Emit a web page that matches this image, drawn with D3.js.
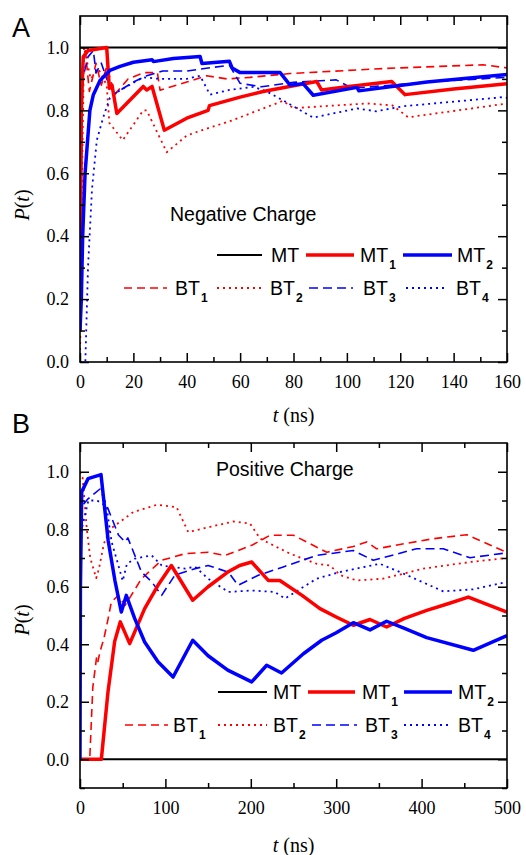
<!DOCTYPE html>
<html><head><meta charset="utf-8">
<script src="https://cdn.jsdelivr.net/npm/d3@7"></script>
<style>
html,body{margin:0;padding:0;background:#fff;}
svg{display:block;}
.tick text{font-family:'Liberation Serif','Times New Roman',serif !important;}
</style></head>
<body>
<svg id="chart" width="526" height="855"></svg>
<script>
// ---------- DATA ----------
// Panel A : Negative Charge, t in ns (0-160)
const xTicksA = [0,20,40,60,80,100,120,140,160];
const yTicksA = [0.0,0.2,0.4,0.6,0.8,1.0];
const A_MT  = [[0,1.0],[160,1.0]];
const A_MT1 = [[0,0.1],[0.5,0.8],[1.2,0.97],[3,0.99],[10,1.0],[11,0.87],[12,0.88],[13.8,0.79],[23.7,0.876],[25,0.865],[27,0.876],[31.6,0.737],[40,0.775],[48,0.8],[48.5,0.815],[60,0.842],[68.6,0.86],[80,0.878],[88.7,0.892],[90.5,0.865],[100,0.875],[116.8,0.892],[121.8,0.85],[140,0.868],[160,0.885]];
const A_MT2 = [[0,0.1],[0.5,0.2],[1,0.4],[1.9,0.6],[3.7,0.8],[5,0.85],[7.5,0.895],[11.2,0.927],[15,0.94],[20,0.953],[27,0.961],[27.5,0.955],[35,0.965],[45,0.971],[45.7,0.949],[56,0.956],[57,0.935],[60,0.92],[65,0.92],[75,0.92],[78.7,0.88],[83.6,0.885],[87.4,0.848],[103.8,0.873],[104.5,0.862],[130,0.89],[160,0.914]];
const A_BT1 = [[0,0.45],[1,0.95],[2,0.99],[3.5,0.86],[6,0.95],[8,0.88],[10,0.94],[13,0.85],[18,0.9],[24,0.92],[29,0.92],[30,0.864],[40,0.89],[47.5,0.91],[55,0.9],[63.7,0.905],[78.7,0.917],[113.6,0.933],[151,0.945],[160,0.935]];
const A_BT2 = [[0,0],[0.8,0.6],[1.5,1.0],[4,0.9],[7,0.93],[10,0.88],[11,0.76],[16,0.705],[23.7,0.8],[25,0.8],[32.5,0.667],[40,0.72],[45,0.735],[57,0.768],[63.7,0.79],[76,0.83],[80,0.807],[107.5,0.822],[117,0.816],[123,0.778],[158.5,0.82],[160,0.82]];
const A_BT3 = [[0,0.3],[1,0.9],[3,0.97],[5,0.99],[6,0.92],[8,0.95],[10,0.9],[13,0.853],[20,0.89],[25,0.91],[31,0.925],[40,0.925],[50,0.937],[56,0.943],[60,0.886],[68,0.875],[80,0.889],[96,0.897],[102,0.87],[130,0.89],[160,0.905]];
const A_BT4 = [[0,0],[2,0],[3,0.3],[4.5,0.55],[6.3,0.705],[8.7,0.778],[11.2,0.84],[15,0.864],[23.7,0.905],[30,0.9],[40,0.9],[45,0.91],[48.7,0.85],[56,0.865],[65,0.875],[70,0.86],[76,0.832],[87.4,0.777],[103.8,0.806],[111,0.797],[121,0.813],[158.5,0.842],[160,0.84]];

// Panel B : Positive Charge, t in ns (0-500)
const xTicksB = [0,100,200,300,400,500];
const yTicksB = [0.0,0.2,0.4,0.6,0.8,1.0];
const B_MT  = [[0,0],[500,0]];
const B_MT1 = [[0,0],[25,0],[32.8,0.235],[40.6,0.41],[47.2,0.478],[58.2,0.402],[75.7,0.524],[91.3,0.605],[107,0.674],[132,0.553],[150,0.6],[173,0.651],[187,0.674],[201,0.686],[220.5,0.622],[234,0.622],[260,0.57],[281,0.524],[300,0.495],[320,0.466],[339.6,0.486],[359,0.46],[380,0.49],[406,0.518],[430,0.54],[454.7,0.564],[500,0.512]];
const B_MT2 = [[0,0],[0.5,0.6],[2,0.93],[9.4,0.976],[24.6,0.99],[33,0.76],[41,0.62],[48.4,0.512],[54.2,0.57],[64,0.49],[75.7,0.408],[91.3,0.339],[109,0.286],[132,0.414],[150,0.36],[173,0.31],[201,0.269],[218.6,0.327],[236,0.30],[261.6,0.367],[283,0.414],[300,0.44],[320,0.475],[339.6,0.45],[359,0.48],[380,0.455],[406,0.423],[460.5,0.379],[500,0.43]];
const B_BT1 = [[0,0],[11.4,0],[15,0.25],[19.5,0.357],[21,0.34],[23.4,0.374],[28,0.42],[33,0.49],[36.7,0.547],[45,0.57],[52.7,0.535],[60,0.57],[72,0.628],[95.6,0.692],[123,0.715],[150,0.72],[170,0.709],[201,0.744],[222.5,0.779],[250,0.779],[289,0.72],[320,0.74],[335.7,0.756],[347.4,0.732],[380,0.75],[413.7,0.767],[452.8,0.781],[499.6,0.72]];
const B_BT2 = [[0,1.0],[3,0.98],[8,0.8],[12,0.7],[19,0.63],[22,0.66],[28,0.75],[35,0.8],[62.4,0.86],[89.8,0.885],[113,0.877],[126.8,0.79],[152,0.808],[179.5,0.827],[199,0.82],[211,0.767],[246,0.715],[277,0.68],[292.7,0.674],[305,0.64],[324,0.622],[355,0.628],[402,0.663],[456.7,0.686],[500,0.70]];
const B_BT3 = [[0,0.5],[2,0.88],[9.4,0.906],[23.4,0.94],[33,0.87],[45,0.78],[52.7,0.756],[56,0.77],[72,0.651],[84,0.617],[95.6,0.57],[111,0.64],[134.7,0.663],[150,0.674],[173.7,0.651],[185,0.605],[208.8,0.64],[238,0.669],[277,0.709],[320,0.726],[343.4,0.692],[394,0.732],[425.4,0.732],[456.7,0.701],[500,0.718]];
const B_BT4 = [[0,0.6],[2,0.8],[9.8,0.9],[20,0.9],[31,0.88],[37,0.756],[45,0.674],[50,0.62],[55,0.68],[64.4,0.698],[84,0.709],[95.6,0.674],[123,0.663],[134.7,0.67],[150,0.628],[173.7,0.582],[201,0.587],[228,0.582],[240,0.559],[277,0.628],[304.4,0.651],[351,0.68],[374.7,0.651],[425.4,0.584],[460.5,0.591],[500,0.617]];

const seriesNames = ["MT","MT1","MT2","BT1","BT2","BT3","BT4"];

// ---------- STYLES ----------
const RED = "#ff0000", BLUE = "#0000ff";
const styles = {
  MT:  {color:"#000", width:2,   dash:null},
  MT1: {color:RED,  width:3.5, dash:null},
  MT2: {color:BLUE, width:3.5, dash:null},
  BT1: {color:RED,  width:1.6, dash:"8,5"},
  BT2: {color:RED,  width:1.8, dash:"2,4"},
  BT3: {color:BLUE, width:1.6, dash:"9,5"},
  BT4: {color:BLUE, width:1.8, dash:"2,4"}
};
const SERIF = "'Liberation Serif','Times New Roman',serif";
const SANS  = "'Liberation Sans',Arial,sans-serif";

const svg = d3.select("#chart");

function drawPanel(cfg){
  const L = 80, R = 507;
  const x = d3.scaleLinear().domain(cfg.xd).range([L,R]);
  const y = d3.scaleLinear().domain(cfg.yd).range([cfg.bottom, cfg.top]);
  const g = svg.append("g");
  const clipId = "clip"+cfg.id;
  svg.append("clipPath").attr("id",clipId).append("rect")
    .attr("x",L).attr("y",cfg.top).attr("width",R-L).attr("height",cfg.bottom-cfg.top);

  const line = d3.line().x(d=>x(d[0])).y(d=>y(d[1]));
  const order = ["BT1","BT2","BT3","BT4","MT","MT1","MT2"];
  const dataG = g.append("g").attr("clip-path",`url(#${clipId})`);
  order.forEach(k=>{
    const s = styles[k];
    dataG.append("path").datum(cfg.data[k]).attr("d",line)
      .attr("fill","none").attr("stroke",s.color).attr("stroke-width",s.width)
      .attr("stroke-dasharray",s.dash).attr("stroke-linejoin","round");
  });

  // axes
  const axStyle = sel => {
    sel.attr("font-family",SERIF).attr("font-size",18);
    sel.select(".domain").remove();
    sel.selectAll(".tick line").attr("stroke","#000").attr("stroke-width",1.5);
    sel.selectAll(".tick text").style("font-family",SERIF).style("font-size","18px").attr("fill","#000");
  };
  const fmtY = d3.format(".1f");
  g.append("g").attr("transform",`translate(0,${cfg.bottom})`)
    .call(d3.axisBottom(x).tickValues(cfg.xticks).tickSize(-9).tickPadding(13).tickFormat(d3.format("d"))).call(axStyle);
  g.append("g").attr("transform",`translate(0,${cfg.bottom})`)
    .call(d3.axisBottom(x).tickValues(cfg.xminor).tickSize(-5).tickFormat("")).call(axStyle);
  g.append("g").attr("transform",`translate(0,${cfg.top})`)
    .call(d3.axisTop(x).tickValues(cfg.xticks).tickSize(-9).tickFormat("")).call(axStyle);
  g.append("g").attr("transform",`translate(0,${cfg.top})`)
    .call(d3.axisTop(x).tickValues(cfg.xminor).tickSize(-5).tickFormat("")).call(axStyle);
  g.append("g").attr("transform",`translate(${L},0)`)
    .call(d3.axisLeft(y).tickValues(cfg.yticks).tickSize(-9).tickPadding(11).tickFormat(fmtY)).call(axStyle);
  g.append("g").attr("transform",`translate(${L},0)`)
    .call(d3.axisLeft(y).tickValues(cfg.yminor).tickSize(-5).tickFormat("")).call(axStyle);
  g.append("g").attr("transform",`translate(${R},0)`)
    .call(d3.axisRight(y).tickValues(cfg.yticks).tickSize(-9).tickFormat("")).call(axStyle);
  g.append("g").attr("transform",`translate(${R},0)`)
    .call(d3.axisRight(y).tickValues(cfg.yminor).tickSize(-5).tickFormat("")).call(axStyle);

  g.append("rect").attr("x",L).attr("y",cfg.top).attr("width",R-L).attr("height",cfg.bottom-cfg.top)
    .attr("fill","none").attr("stroke","#000").attr("stroke-width",1.6);

  // panel letter
  g.append("text").attr("x",12).attr("y",cfg.letterY).text(cfg.letter)
    .attr("font-family",SANS).attr("font-size",27).attr("fill","#000");

  // y label
  const yl = g.append("text").attr("transform",`translate(29,${cfg.ylabelY}) rotate(-90)`)
    .attr("text-anchor","middle").attr("font-family",SERIF).attr("font-size",20);
  yl.append("tspan").attr("font-style","italic").text("P");
  yl.append("tspan").text("(");
  yl.append("tspan").attr("font-style","italic").text("t");
  yl.append("tspan").text(")");

  // x label
  const xl = g.append("text").attr("x",(L+R)/2).attr("y",cfg.xlabelY)
    .attr("text-anchor","middle").attr("font-family",SERIF).attr("font-size",20);
  xl.append("tspan").attr("font-style","italic").text("t");
  xl.append("tspan").text(" (ns)");

  // title
  g.append("text").attr("x",cfg.titleX).attr("y",cfg.titleY).text(cfg.title)
    .attr("font-family",SANS).attr("font-size",19.5).attr("fill","#000");

  // legend
  cfg.legend.forEach(item=>{
    const s = styles[item.key];
    g.append("line").attr("x1",item.x1).attr("x2",item.x2).attr("y1",item.y).attr("y2",item.y)
      .attr("stroke",s.color).attr("stroke-width",s.width).attr("stroke-dasharray",s.dash);
    const t = g.append("text").attr("x",item.tx).attr("y",item.y+7)
      .attr("font-family",SANS).attr("font-size",19.5).attr("fill","#000");
    const base = item.key.slice(0,2), sub = item.key.slice(2);
    t.append("tspan").text(base);
    if (sub) t.append("tspan").attr("font-size",12).attr("font-weight","bold").attr("dy",7).attr("dx",1).text(sub);
  });
}

function legendRows(y1,y2,pos){
  return [
    {key:"MT", y:y1, x1:pos[0][0], x2:pos[0][1], tx:pos[0][2]},
    {key:"MT1",y:y1, x1:pos[1][0], x2:pos[1][1], tx:pos[1][2]},
    {key:"MT2",y:y1, x1:pos[2][0], x2:pos[2][1], tx:pos[2][2]},
    {key:"BT1",y:y2, x1:pos[3][0], x2:pos[3][1], tx:pos[3][2]},
    {key:"BT2",y:y2, x1:pos[4][0], x2:pos[4][1], tx:pos[4][2]},
    {key:"BT3",y:y2, x1:pos[5][0], x2:pos[5][1], tx:pos[5][2]},
    {key:"BT4",y:y2, x1:pos[6][0], x2:pos[6][1], tx:pos[6][2]}
  ];
}

drawPanel({
  id:"A", letter:"A", letterY:37, top:16, bottom:362, xd:[0,160], yd:[0,1.1],
  xticks:xTicksA, xminor:[10,30,50,70,90,110,130,150],
  yticks:yTicksA, yminor:[0.1,0.3,0.5,0.7,0.9],
  ylabelY:205, xlabelY:422, title:"Negative Charge", titleX:170, titleY:221,
  data:{MT:A_MT,MT1:A_MT1,MT2:A_MT2,BT1:A_BT1,BT2:A_BT2,BT3:A_BT3,BT4:A_BT4},
  legend: legendRows(255,288,[[217,262,271],[306,354,360],[403,452,457],[124,167,175],[217,262,270],[309,353,363],[406,448,456]])
});

drawPanel({
  id:"B", letter:"B", letterY:433, top:443, bottom:788, xd:[0,500], yd:[-0.1,1.1],
  xticks:xTicksB, xminor:[50,150,250,350,450],
  yticks:yTicksB, yminor:[-0.1,0.1,0.3,0.5,0.7,0.9],
  ylabelY:620, xlabelY:852, title:"Positive Charge", titleX:216, titleY:476,
  data:{MT:B_MT,MT1:B_MT1,MT2:B_MT2,BT1:B_BT1,BT2:B_BT2,BT3:B_BT3,BT4:B_BT4},
  legend: legendRows(692,725,[[218,267,273],[308,355,362],[404,452,458],[125,168,173],[218,267,273],[312,357,365],[404,452,458]])
});
</script>
</body></html>
